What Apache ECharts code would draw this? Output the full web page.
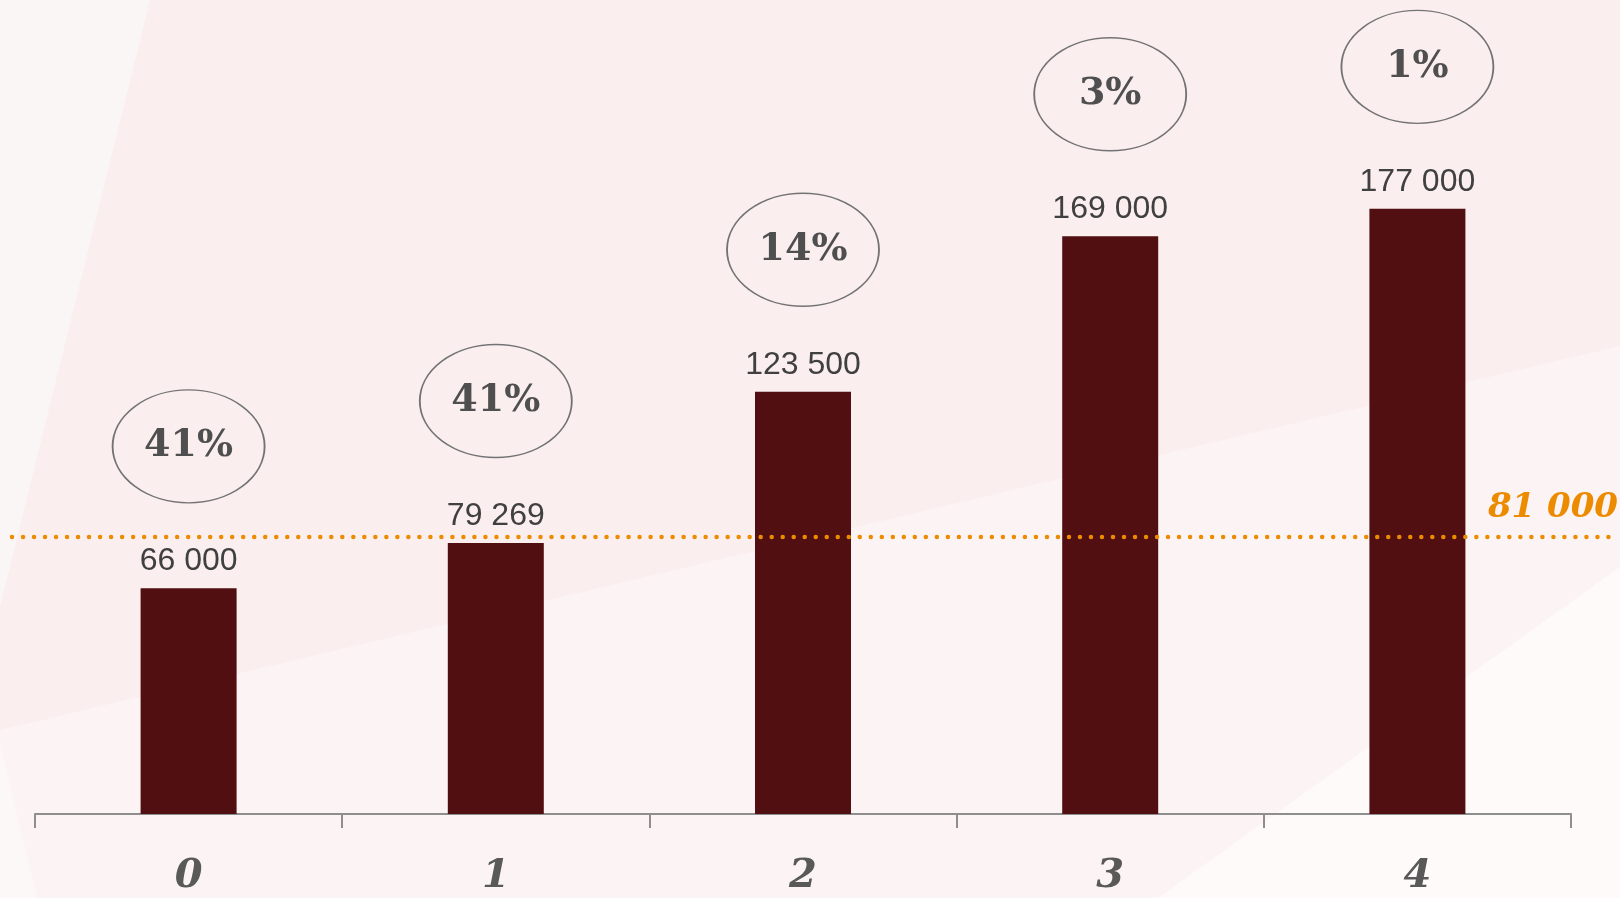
<!DOCTYPE html>
<html>
<head>
<meta charset="utf-8">
<script src="https://cdn.jsdelivr.net/npm/echarts@6/dist/echarts.min.js"></script>
<style>
html,body{margin:0;padding:0;background:#FAEEEE;}
#c{width:1620px;height:898px;}
</style>
</head>
<body>
<div id="c"></div>
<script>
const categories = ['0', '1', '2', '3', '4'];
const values = [66000, 79269, 123500, 169000, 177000];
const shares = [41, 41, 14, 3, 1];
const threshold = 81000;
const thresholdLabel = '81 000';

function fmt(v) {
  return String(v).replace(/\B(?=(\d{3})+(?!\d))/g, ' ');
}

const chart = echarts.init(document.getElementById('c'), null, {renderer: 'canvas'});

const yMax = 234000;

chart.setOption({
  backgroundColor: '#FAEEEE',
  animation: false,
  graphic: {
    elements: [
      {type: 'polygon', z: -10, silent: true, shape: {points: [[0,0],[150,0],[0,607]]}, style: {fill: '#FBF6F6'}},
      {type: 'polygon', z: -10, silent: true, shape: {points: [[0,730],[1620,346],[1620,898],[0,898]]}, style: {fill: '#FCF4F4'}},
      {type: 'polygon', z: -9, silent: true, shape: {points: [[1158,898],[1620,567],[1620,898]]}, style: {fill: '#FEFAFA'}},
      {type: 'polygon', z: -9, silent: true, shape: {points: [[0,745],[37,898],[0,898]]}, style: {fill: '#FDF8F8'}}
    ]
  },
  grid: [
    {left: 35, right: 49, top: 14, bottom: 84, containLabel: false},
    {left: 12, right: 8, top: 14, bottom: 84, containLabel: false}
  ],
  xAxis: [
    {
      type: 'category',
      gridIndex: 0,
      data: categories,
      boundaryGap: true,
      axisLine: {show: true, lineStyle: {color: '#8E8E8E', width: 2}},
      axisTick: {show: true, length: 14, lineStyle: {color: '#8E8E8E', width: 2}},
      axisLabel: {
        margin: 43,
        color: '#595959',
        fontFamily: 'DejaVu Serif',
        fontStyle: 'italic',
        fontWeight: 'bold',
        fontSize: 40
      }
    },
    {type: 'value', gridIndex: 1, min: 0, max: 1, show: false}
  ],
  yAxis: [
    {type: 'value', gridIndex: 0, min: 0, max: yMax, show: false, splitLine: {show: false}},
    {type: 'value', gridIndex: 1, min: 0, max: yMax, show: false, splitLine: {show: false}}
  ],
  series: [
    {
      type: 'bar',
      xAxisIndex: 0,
      yAxisIndex: 0,
      data: values,
      barWidth: 96,
      itemStyle: {color: '#520F12'},
      label: {
        show: true,
        position: 'top',
        distance: 11,
        color: '#404040',
        fontFamily: 'Liberation Sans',
        fontSize: 32,
        formatter: p => fmt(p.value)
      },
      z: 3
    },
    {
      type: 'scatter',
      xAxisIndex: 0,
      yAxisIndex: 0,
      data: values.map((v, i) => ({value: v, share: shares[i]})),
      symbol: 'circle',
      symbolSize: [152, 113],
      symbolOffset: [0, -142],
      itemStyle: {color: 'rgba(0,0,0,0)', borderColor: '#737373', borderWidth: 1.6, opacity: 1},
      label: {
        show: true,
        position: 'inside',
        color: '#4F4F4F',
        fontFamily: 'DejaVu Serif',
        fontWeight: 'bold',
        fontSize: 38,
        formatter: p => p.data.share + '%'
      },
      emphasis: {disabled: true},
      z: 4
    },
    {
      type: 'line',
      xAxisIndex: 1,
      yAxisIndex: 1,
      data: [
        [0, threshold],
        {
          value: [1, threshold],
          label: {
            show: true,
            position: 'top',
            align: 'right',
            distance: 12,
            offset: [6, 0],
            color: '#EC8B00',
            fontFamily: 'DejaVu Serif',
            fontStyle: 'italic',
            fontWeight: 'bold',
            fontSize: 34,
            formatter: () => thresholdLabel
          }
        }
      ],
      showSymbol: true,
      symbol: 'circle',
      symbolSize: 0.01,
      lineStyle: {color: '#EC8B00', width: 4.5, type: [0.01, 11], cap: 'round'},
      label: {show: false},
      z: 5
    }
  ]
});
</script>
</body>
</html>
